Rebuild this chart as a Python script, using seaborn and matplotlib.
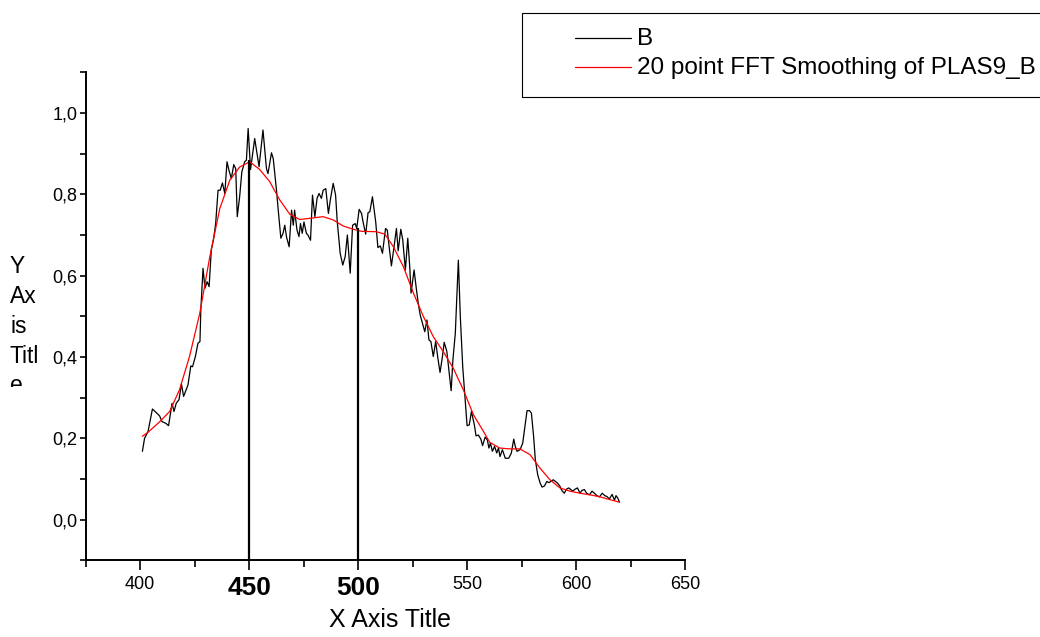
import numpy as np
import pandas as pd
import matplotlib
matplotlib.use("Agg")
import matplotlib.pyplot as plt
import seaborn as sns
from matplotlib.lines import Line2D
from matplotlib.patches import Rectangle
from matplotlib.transforms import Bbox, TransformedBbox
from matplotlib.ticker import FixedLocator

# raw spectrum "B"
raw_x = [401.0, 402.0, 403.6, 405.6, 407.4, 408.9, 410.0, 411.7, 413.0, 414.6,
         415.5, 416.5, 417.8, 418.9, 419.9, 421.9, 423.2, 424.0, 425.3, 426.5,
         427.4, 427.8, 428.8, 429.7, 430.7, 431.6, 432.6, 433.7, 434.6, 435.7,
         436.7, 437.7, 438.8, 439.8, 440.7, 441.8, 442.9, 443.8, 444.5, 445.6,
         446.6, 447.9, 448.7, 449.5, 450.6, 452.5, 454.5, 456.3, 457.9, 458.6,
         460.2, 461.0, 462.5, 463.3, 464.5, 465.5, 466.3, 467.1, 468.3, 469.4,
         470.2, 470.8, 471.9, 472.8, 473.5, 474.3, 475.1, 476.2, 476.9, 478.1,
         479.0, 480.1, 481.1, 482.0, 483.1, 483.9, 485.1, 486.3, 487.3, 488.5,
         489.6, 490.3, 491.7, 492.9, 494.0, 495.0, 496.3, 497.4, 498.6, 499.3,
         500.4, 501.5, 502.2, 503.4, 504.5, 505.3, 506.5, 508.0, 509.0, 510.1,
         511.1, 512.5, 513.3, 514.2, 515.2, 516.3, 517.5, 518.3, 519.5, 520.4,
         521.6, 522.7, 523.6, 524.2, 525.6, 526.6, 527.5, 528.4, 529.4, 530.5,
         531.5, 532.4, 533.3, 534.4, 535.5, 536.5, 537.5, 538.6, 539.4, 540.6,
         541.9, 542.6, 543.4, 544.5, 545.9, 546.8, 547.9, 549.0, 549.9, 550.9,
         551.9, 553.3, 554.0, 555.1, 556.2, 557.0, 558.2, 559.2, 559.9, 560.6,
         561.5, 562.5, 563.5, 564.3, 565.0, 566.1, 567.4, 569.0, 570.2, 571.3,
         572.0, 572.8, 574.2, 575.4, 576.6, 577.4, 578.5, 579.4, 580.4, 581.2,
         582.3, 583.4, 584.3, 585.4, 586.5, 587.4, 588.4, 589.4, 590.4, 591.5,
         592.5, 593.3, 594.5, 595.5, 596.5, 597.5, 598.3, 599.5, 600.5, 601.7,
         602.6, 603.7, 604.7, 606.0, 607.2, 608.3, 609.4, 610.6, 611.9, 613.0,
         614.0, 615.2, 616.4, 617.5, 618.2, 619.0, 619.8]
raw_y = [0.168, 0.200, 0.217, 0.272, 0.263, 0.255, 0.241, 0.237, 0.231, 0.286,
         0.266, 0.286, 0.295, 0.334, 0.303, 0.331, 0.378, 0.376, 0.401, 0.434,
         0.438, 0.516, 0.618, 0.569, 0.585, 0.573, 0.663, 0.692, 0.728, 0.810,
         0.810, 0.828, 0.802, 0.880, 0.859, 0.839, 0.873, 0.863, 0.745, 0.794,
         0.855, 0.880, 0.884, 0.962, 0.861, 0.937, 0.868, 0.958, 0.863, 0.851,
         0.902, 0.888, 0.810, 0.761, 0.692, 0.704, 0.724, 0.695, 0.671, 0.761,
         0.724, 0.761, 0.712, 0.696, 0.728, 0.704, 0.732, 0.704, 0.700, 0.687,
         0.798, 0.745, 0.790, 0.802, 0.790, 0.810, 0.814, 0.753, 0.790, 0.827,
         0.798, 0.737, 0.655, 0.626, 0.647, 0.700, 0.606, 0.724, 0.728, 0.716,
         0.763, 0.753, 0.732, 0.702, 0.755, 0.757, 0.794, 0.732, 0.669, 0.673,
         0.655, 0.716, 0.712, 0.669, 0.624, 0.667, 0.716, 0.661, 0.714, 0.688,
         0.614, 0.692, 0.622, 0.557, 0.614, 0.569, 0.532, 0.503, 0.483, 0.462,
         0.491, 0.442, 0.438, 0.401, 0.438, 0.397, 0.362, 0.401, 0.436, 0.414,
         0.352, 0.317, 0.393, 0.458, 0.638, 0.499, 0.376, 0.295, 0.231, 0.233,
         0.266, 0.231, 0.206, 0.208, 0.198, 0.182, 0.203, 0.196, 0.176, 0.188,
         0.168, 0.180, 0.164, 0.176, 0.155, 0.172, 0.151, 0.151, 0.164, 0.198,
         0.180, 0.168, 0.172, 0.188, 0.237, 0.268, 0.268, 0.262, 0.205, 0.147,
         0.110, 0.090, 0.080, 0.083, 0.094, 0.091, 0.094, 0.098, 0.094, 0.089,
         0.082, 0.072, 0.065, 0.075, 0.078, 0.074, 0.070, 0.075, 0.078, 0.065,
         0.072, 0.074, 0.065, 0.061, 0.070, 0.065, 0.059, 0.056, 0.065, 0.059,
         0.057, 0.051, 0.062, 0.048, 0.059, 0.053, 0.043]

# 20 point FFT smoothing
smooth_x = [401.0, 403.6, 409.0, 413.5, 418.0, 422.6, 427.3, 431.9, 436.5, 441.1,
            445.6, 450.2, 454.8, 459.4, 464.0, 468.6, 473.2, 477.8, 483.9, 488.5,
            493.1, 497.7, 501.5, 508.3, 512.2, 516.1, 520.7, 525.3, 529.9, 534.4,
            539.0, 543.6, 548.2, 552.8, 557.4, 560.3, 564.9, 569.5, 574.1, 578.7,
            583.3, 587.9, 592.5, 597.1, 601.7, 606.3, 610.9, 615.5, 619.8]
smooth_y = [0.205, 0.215, 0.241, 0.266, 0.319, 0.401, 0.507, 0.646, 0.765, 0.835,
            0.867, 0.880, 0.861, 0.831, 0.786, 0.751, 0.738, 0.741, 0.745, 0.737,
            0.722, 0.714, 0.709, 0.708, 0.702, 0.671, 0.622, 0.557, 0.499, 0.450,
            0.413, 0.372, 0.319, 0.258, 0.217, 0.190, 0.176, 0.174, 0.174, 0.160,
            0.127, 0.098, 0.078, 0.070, 0.065, 0.061, 0.056, 0.049, 0.043]

# drop lines
drop_x = [450, 500]
drop_top = [0.885, 0.716]

xticks = [400, 450, 500, 550, 600, 650]
yticks = [0.0, 0.2, 0.4, 0.6, 0.8, 1.0]

sns.set_style("ticks")
plt.rcParams['font.family'] = ['Liberation Sans', 'DejaVu Sans']
plt.rcParams['text.color'] = 'black'
plt.rcParams['axes.labelcolor'] = 'black'
plt.rcParams['xtick.color'] = 'black'
plt.rcParams['ytick.color'] = 'black'

fig = plt.figure(figsize=(10.4, 6.37), dpi=100)
ax = fig.add_axes([0.0824, 0.1204, 0.5766, 0.7661])

raw = pd.DataFrame({'x': raw_x, 'y': raw_y})
smo = pd.DataFrame({'x': smooth_x, 'y': smooth_y})
sns.lineplot(data=raw, x='x', y='y', color='black', lw=0.9, ax=ax,
             estimator=None, sort=False)
sns.lineplot(data=smo, x='x', y='y', color='#ff0000', lw=0.9, ax=ax,
             estimator=None, sort=False)
ax.vlines(drop_x, -0.1, drop_top, color='black', lw=1.6)

ax.set_xlim(375, 650)
ax.set_ylim(-0.1, 1.1)
sns.despine(ax=ax)
for s in ['left', 'bottom']:
    ax.spines[s].set_linewidth(1.4)
    ax.spines[s].set_color('black')

ax.set_xticks(xticks)
ax.set_xticklabels([str(t) for t in xticks])
ax.xaxis.set_minor_locator(FixedLocator([375, 425, 475, 525, 575, 625]))
ax.set_yticks(yticks)
ax.set_yticklabels([f"{t:.1f}".replace('.', ',') for t in yticks])
ax.yaxis.set_minor_locator(FixedLocator([-0.1, 0.1, 0.3, 0.5, 0.7, 0.9, 1.1]))

ax.tick_params(axis='x', which='major', direction='out', length=7, width=1.2,
               colors='black', labelsize=13, pad=4)
ax.tick_params(axis='x', which='minor', direction='out', length=5, width=1.2,
               colors='black')
ax.tick_params(axis='y', which='both', direction='out', length=4, width=1.2,
               colors='black', labelsize=13, pad=2)
for lab in ax.get_xticklabels():
    if lab.get_text() in ('450', '500'):
        lab.set_fontweight('bold')
        lab.set_fontsize(19)

ax.set_xlabel('')
ax.set_ylabel('')
fig.text(390 / 1040, 1 - 620 / 637, 'X Axis Title', fontsize=18,
         ha='center', va='center')

# y title wraps letter by letter and the last line is cut off
ylab = fig.text(10 / 1040, 1 - 255 / 637, 'Y\nAx\nis\nTitl\ne', fontsize=16.5,
                ha='left', va='top', linespacing=1.38)
ylab.set_clip_box(TransformedBbox(Bbox([[0, 1 - 387 / 637], [0.2, 1]]),
                                  fig.transFigure))
ylab.set_clip_on(True)

# legend box, drawn in figure space (it runs off the right edge)
fig.add_artist(Rectangle((522 / 1040, 1 - 97 / 637), 0.6, 84 / 637,
                         transform=fig.transFigure, fill=False,
                         edgecolor='black', lw=0.8))
fig.add_artist(Line2D([575 / 1040, 631 / 1040], [1 - 38 / 637] * 2,
                      transform=fig.transFigure, color='black', lw=0.9))
fig.add_artist(Line2D([575 / 1040, 631 / 1040], [1 - 67 / 637] * 2,
                      transform=fig.transFigure, color='#ff0000', lw=0.9))
fig.text(637 / 1040, 1 - 39 / 637, 'B', fontsize=17.5, va='center', ha='left')
fig.text(637 / 1040, 1 - 68 / 637, '20 point FFT Smoothing of PLAS9_B',
         fontsize=17.5, va='center', ha='left')

fig.savefig('out.png', dpi=100)
